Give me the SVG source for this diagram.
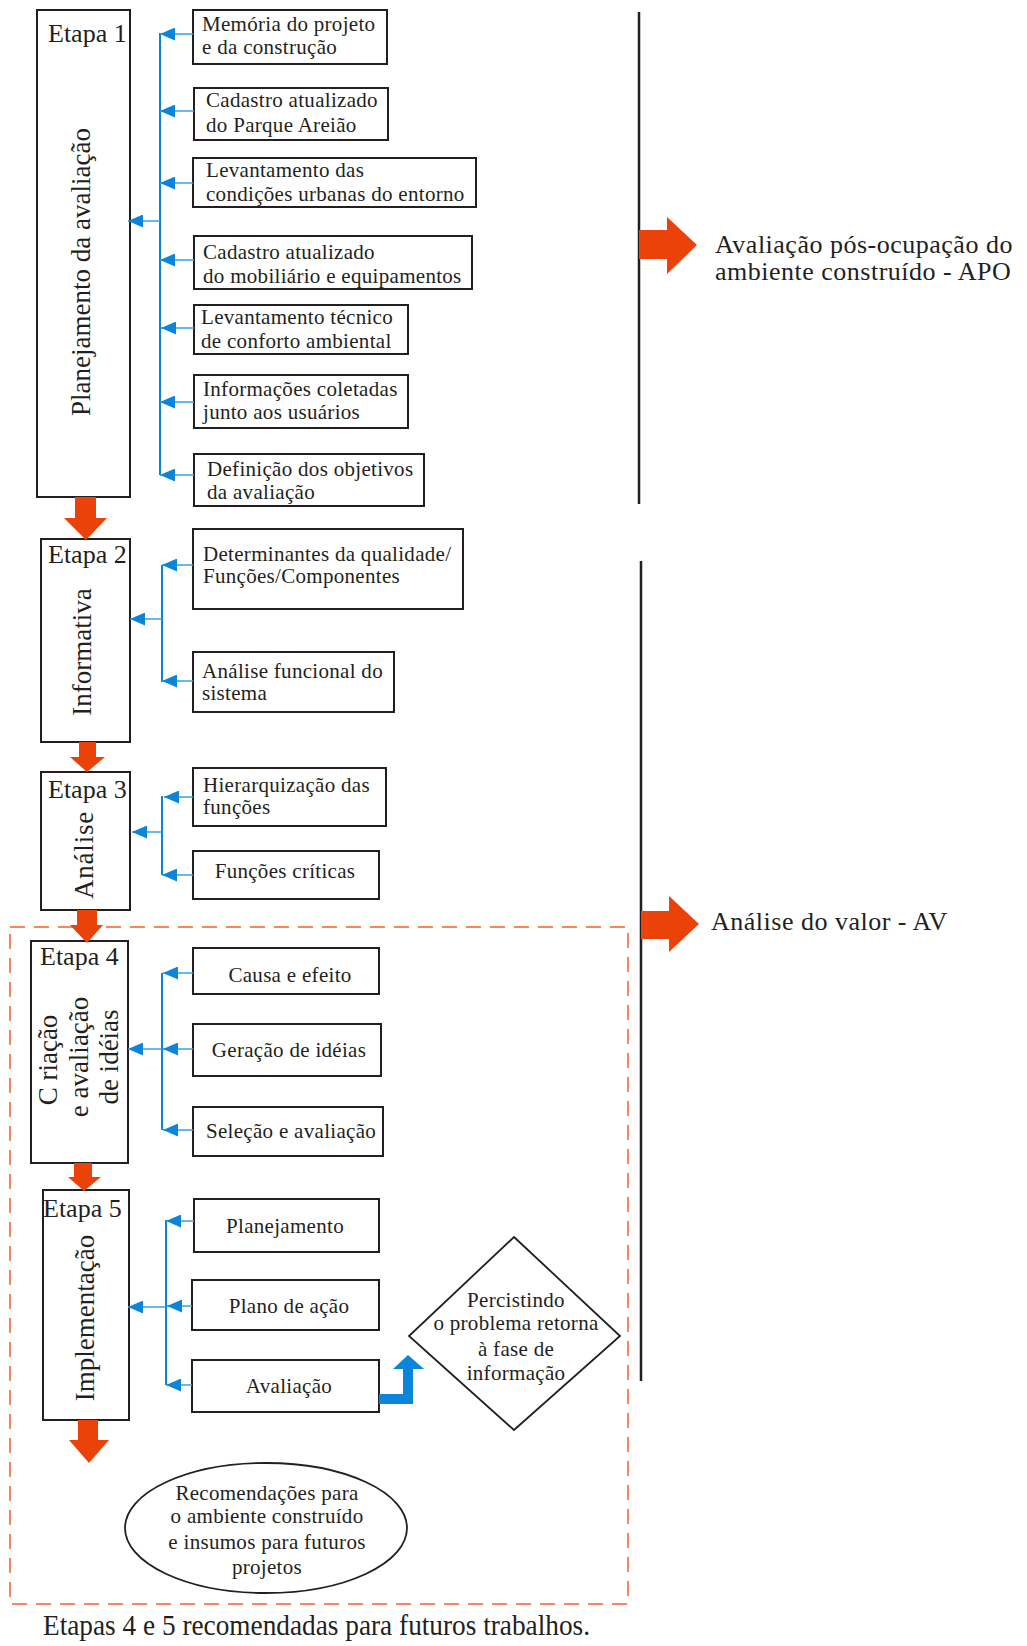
<svg xmlns="http://www.w3.org/2000/svg" width="1027" height="1646" viewBox="0 0 1027 1646">
<style>
text{font-family:"Liberation Serif","Times New Roman",serif;fill:#231f20}
.box{fill:#fff;stroke:#231f20;stroke-width:2}
.t{font-size:21px;letter-spacing:0.3px}
.c{text-anchor:middle}
.et{font-size:26px}
.rot{font-size:27px;text-anchor:middle}
.side{font-size:26px;letter-spacing:0.5px}
.vl{stroke:#0a85d9;stroke-width:2;fill:none}
.hl{stroke:#3a9fe6;stroke-width:1.5;fill:none}
.red{fill:#ea4208}
</style>
<defs>
<marker id="ah" viewBox="0 0 15 13" refX="15" refY="6.5" markerWidth="15" markerHeight="13" markerUnits="userSpaceOnUse" orient="auto">
<path d="M0,0 L15,6.5 L0,13 Z" fill="#0a85d9"/>
</marker>
</defs>

<!-- Etapa nodes -->
<g id="etapa1">
<rect class="box" x="37" y="10" width="93" height="487"/>
<text class="et" x="48" y="42">Etapa 1</text>
<text class="rot" transform="translate(90,272) rotate(-90)">Planejamento da avaliação</text>
</g>
<g id="etapa2">
<rect class="box" x="41" y="539" width="89" height="203"/>
<text class="et" x="48" y="563">Etapa 2</text>
<text class="rot" transform="translate(91,652) rotate(-90)">Informativa</text>
</g>
<g id="etapa3">
<rect class="box" x="41" y="772" width="89" height="138"/>
<text class="et" x="48" y="798">Etapa 3</text>
<text class="rot" transform="translate(93,855) rotate(-90)" letter-spacing="0.8">Análise</text>
</g>
<g id="etapa4">
<rect class="box" x="31" y="941" width="97" height="222"/>
<text class="et" x="40" y="965">Etapa 4</text>
<text class="rot" transform="translate(57,1060) rotate(-90)">C riação</text>
<text class="rot" transform="translate(88,1057) rotate(-90)">e avaliação</text>
<text class="rot" transform="translate(118,1057) rotate(-90)">de idéias</text>
</g>
<g id="etapa5">
<rect class="box" x="43" y="1190" width="86" height="230"/>
<text class="et" x="43" y="1217">Etapa 5</text>
<text class="rot" transform="translate(94,1318) rotate(-90)">Implementação</text>
</g>

<!-- Stage 1 items -->
<g id="n1"><rect class="box" x="193" y="10" width="194" height="54"/><text class="t" x="202" y="31">Memória do projeto</text><text class="t" x="202" y="54">e da construção</text></g>
<g id="n2"><rect class="box" x="194" y="88" width="194" height="52"/><text class="t" x="206" y="107">Cadastro atualizado</text><text class="t" x="206" y="132">do Parque Areião</text></g>
<g id="n3"><rect class="box" x="193" y="158" width="283" height="49"/><text class="t" x="206" y="177">Levantamento das</text><text class="t" x="206" y="201">condições urbanas do entorno</text></g>
<g id="n4"><rect class="box" x="194" y="236" width="278" height="53"/><text class="t" x="203" y="259">Cadastro atualizado</text><text class="t" x="203" y="283">do mobiliário e equipamentos</text></g>
<g id="n5"><rect class="box" x="194" y="305" width="214" height="49"/><text class="t" x="201" y="324">Levantamento técnico</text><text class="t" x="201" y="348">de conforto ambiental</text></g>
<g id="n6"><rect class="box" x="194" y="375" width="214" height="53"/><text class="t" x="203" y="396">Informações coletadas</text><text class="t" x="203" y="419">junto aos usuários</text></g>
<g id="n7"><rect class="box" x="194" y="454" width="230" height="52"/><text class="t" x="207" y="476">Definição dos objetivos</text><text class="t" x="207" y="499">da avaliação</text></g>

<!-- Stage 2 items -->
<g id="n8"><rect class="box" x="193" y="529" width="270" height="80"/><text class="t" x="203" y="561">Determinantes da qualidade/</text><text class="t" x="203" y="583">Funções/Componentes</text></g>
<g id="n9"><rect class="box" x="193" y="652" width="201" height="60"/><text class="t" x="202" y="678">Análise funcional do</text><text class="t" x="202" y="700">sistema</text></g>

<!-- Stage 3 items -->
<g id="n10"><rect class="box" x="193" y="768" width="193" height="58"/><text class="t" x="203" y="792">Hierarquização das</text><text class="t" x="203" y="814">funções</text></g>
<g id="n11"><rect class="box" x="193" y="851" width="186" height="48"/><text class="t c" x="285" y="878">Funções críticas</text></g>

<!-- Stage 4 items -->
<g id="n12"><rect class="box" x="193" y="948" width="186" height="46"/><text class="t c" x="290" y="982">Causa e efeito</text></g>
<g id="n13"><rect class="box" x="193" y="1024" width="188" height="52"/><text class="t c" x="289" y="1057">Geração de idéias</text></g>
<g id="n14"><rect class="box" x="193" y="1107" width="190" height="49"/><text class="t" x="206" y="1138">Seleção e avaliação</text></g>

<!-- Stage 5 items -->
<g id="n15"><rect class="box" x="194" y="1199" width="185" height="53"/><text class="t c" x="285" y="1233">Planejamento</text></g>
<g id="n16"><rect class="box" x="192" y="1280" width="187" height="50"/><text class="t c" x="289" y="1313">Plano de ação</text></g>
<g id="n17"><rect class="box" x="192" y="1360" width="187" height="52"/><text class="t c" x="289" y="1393">Avaliação</text></g>

<g id="decision">
<polygon points="514,1237 620,1336 514,1430 409,1336" fill="#fff" stroke="#231f20" stroke-width="1.8"/>
<text class="t c" x="516" y="1307">Percistindo</text>
<text class="t c" x="516" y="1330">o problema retorna</text>
<text class="t c" x="516" y="1356">à fase de</text>
<text class="t c" x="516" y="1380">informação</text>
</g>

<g id="result">
<ellipse cx="266" cy="1528" rx="141" ry="65" fill="#fff" stroke="#231f20" stroke-width="1.8"/>
<text class="t c" x="267" y="1500">Recomendações para</text>
<text class="t c" x="267" y="1523">o ambiente construído</text>
<text class="t c" x="267" y="1549">e insumos para futuros</text>
<text class="t c" x="267" y="1574">projetos</text>
</g>

<g id="apo">
<text class="side" x="715" y="253">Avaliação pós-ocupação do</text>
<text class="side" x="715" y="280">ambiente construído - APO</text>
</g>
<g id="av">
<text class="side" x="711" y="930" letter-spacing="0.2">Análise do valor - AV</text>
</g>

<g id="caption">
<text x="43" y="1635" font-size="30" textLength="547" lengthAdjust="spacingAndGlyphs">Etapas 4 e 5 recomendadas para futuros trabalhos.</text>
</g>

<!-- Connectors -->
<g id="connectors">
<!-- brackets -->
<line x1="639" y1="12" x2="639" y2="504" stroke="#231f20" stroke-width="2.5"/>
<line x1="641" y1="561" x2="641" y2="1381" stroke="#231f20" stroke-width="2.5"/>
<rect x="10" y="927" width="618" height="677" fill="none" stroke="#f0602a" stroke-width="1.5" stroke-dasharray="15 9"/>

<!-- red flow arrows -->
<polygon class="red" points="75,497 96,497 96,518 107,518 86,540 64,518 75,518"/>
<polygon class="red" points="79,742 96,742 96,757 105,757 87,772 70,757 79,757"/>
<polygon class="red" points="77,910 97,910 97,925 103,925 87,943 70,925 77,925"/>
<polygon class="red" points="74,1163 92,1163 92,1177 101,1177 84,1191 68,1177 74,1177"/>
<polygon class="red" points="78,1420 98,1420 98,1440 109,1440 89,1463 69,1440 78,1440"/>
<polygon class="red" points="639,230 667,230 667,217 697,245 667,274 667,259 639,259"/>
<polygon class="red" points="641,911 669,911 669,896 699,924 669,952 669,939 641,939"/>

<!-- stage 1 -->
<line class="vl" x1="160" y1="33" x2="160" y2="475"/>
<line class="hl" x1="193" y1="34" x2="160" y2="34" marker-end="url(#ah)"/>
<line class="hl" x1="194" y1="111" x2="160" y2="111" marker-end="url(#ah)"/>
<line class="hl" x1="193" y1="183" x2="160" y2="183" marker-end="url(#ah)"/>
<line class="hl" x1="194" y1="260" x2="160" y2="260" marker-end="url(#ah)"/>
<line class="hl" x1="194" y1="328" x2="161" y2="328" marker-end="url(#ah)"/>
<line class="hl" x1="194" y1="402" x2="160" y2="402" marker-end="url(#ah)"/>
<line class="hl" x1="194" y1="475" x2="160" y2="475" marker-end="url(#ah)"/>
<line class="hl" x1="160" y1="221" x2="128" y2="221" marker-end="url(#ah)"/>

<!-- stage 2 -->
<line class="vl" x1="162" y1="565" x2="162" y2="682"/>
<line class="hl" x1="193" y1="565" x2="162" y2="565" marker-end="url(#ah)"/>
<line class="hl" x1="193" y1="681" x2="162" y2="681" marker-end="url(#ah)"/>
<line class="hl" x1="162" y1="619" x2="130" y2="619" marker-end="url(#ah)"/>

<!-- stage 3 -->
<line class="vl" x1="162" y1="796" x2="162" y2="875"/>
<line class="hl" x1="193" y1="797" x2="164" y2="797" marker-end="url(#ah)"/>
<line class="hl" x1="193" y1="875" x2="162" y2="875" marker-end="url(#ah)"/>
<line class="hl" x1="162" y1="832" x2="132" y2="832" marker-end="url(#ah)"/>

<!-- stage 4 -->
<line class="vl" x1="162" y1="973" x2="162" y2="1130"/>
<line class="hl" x1="193" y1="973" x2="163" y2="973" marker-end="url(#ah)"/>
<line class="hl" x1="193" y1="1049" x2="163" y2="1049" marker-end="url(#ah)"/>
<line class="hl" x1="193" y1="1130" x2="163" y2="1130" marker-end="url(#ah)"/>
<line class="hl" x1="162" y1="1049" x2="128" y2="1049" marker-end="url(#ah)"/>

<!-- stage 5 -->
<line class="vl" x1="166" y1="1220" x2="166" y2="1385"/>
<line class="hl" x1="194" y1="1221" x2="166" y2="1221" marker-end="url(#ah)"/>
<line class="hl" x1="192" y1="1306" x2="167" y2="1306" marker-end="url(#ah)"/>
<line class="hl" x1="192" y1="1385" x2="166" y2="1385" marker-end="url(#ah)"/>
<line class="hl" x1="166" y1="1307" x2="128" y2="1307" marker-end="url(#ah)"/>

<!-- feedback arrow -->
<path d="M379,1399 H408 V1368" fill="none" stroke="#0a85d9" stroke-width="10"/>
<polygon points="393,1369 424,1369 408,1355" fill="#0a85d9"/>
</g>
</svg>
